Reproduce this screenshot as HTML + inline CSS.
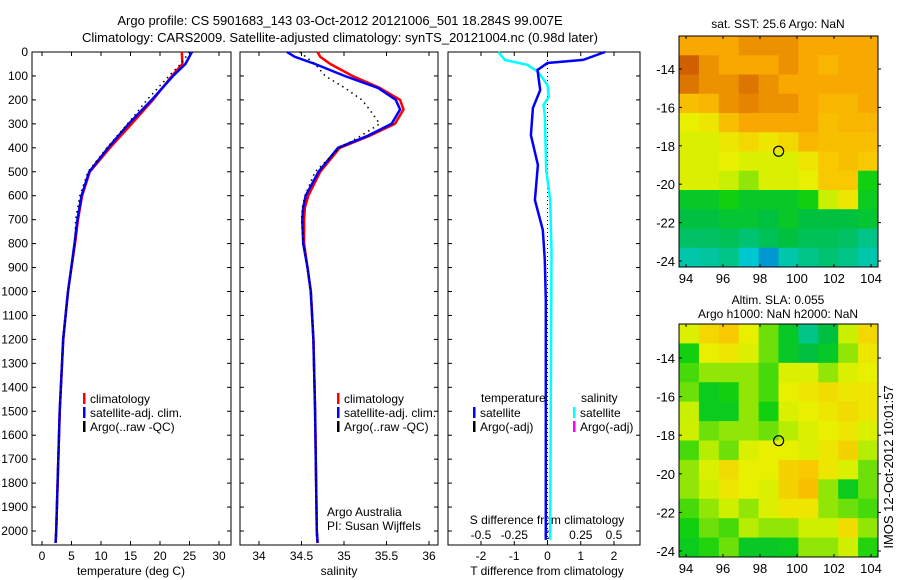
<!DOCTYPE html>
<html><head><meta charset="utf-8"><style>
html,body{margin:0;padding:0;background:#fff;}
svg{display:block;font-family:"Liberation Sans",sans-serif;font-size:12px;}
</style></head><body>
<svg id="fig" width="900" height="580" viewBox="0 0 900 580" xmlns="http://www.w3.org/2000/svg">
<text x="340" y="25" text-anchor="middle" font-size="13">Argo profile: CS 5901683_143 03-Oct-2012 20121006_501 18.284S 99.007E</text>
<text x="340" y="42" text-anchor="middle" font-size="13">Climatology: CARS2009. Satellite-adjusted climatology: synTS_20121004.nc (0.98d later)</text>
<g id="g"></g>
</svg>
<script>
// ---- data ----
var tDepth = [0, 50, 100, 200, 300, 400, 500, 600, 700, 800, 1000, 1200, 1500, 2000, 2050];
var tClim  = [23.7, 23.8, 22.0, 18.8, 15.2, 11.5, 8.1, 6.8, 6.1, 5.6, 4.4, 3.6, 3.0, 2.4, 2.3];
var tSat   = [25.4, 24.3, 22.2, 18.6, 14.7, 11.2, 8.0, 6.7, 6.0, 5.5, 4.4, 3.6, 3.0, 2.4, 2.3];
var tArgo  = [25.0, 23.5, 21.5, 17.8, 14.5, 11.0, 7.8, 6.4, 5.7, 5.6, 4.4, 3.6, 3.0, 2.4, 2.3];
var sDepth = [0, 20, 50, 100, 150, 200, 240, 300, 350, 400, 500, 600, 650, 700, 800, 900, 1000, 1200, 1500, 2000, 2050];
var sClim  = [34.69, 34.72, 34.84, 35.10, 35.42, 35.66, 35.70, 35.60, 35.30, 34.95, 34.72, 34.58, 34.54, 34.53, 34.53, 34.57, 34.61, 34.64, 34.66, 34.68, 34.69];
var sSat   = [34.33, 34.42, 34.66, 35.01, 35.40, 35.61, 35.66, 35.56, 35.28, 34.93, 34.70, 34.55, 34.52, 34.51, 34.52, 34.57, 34.61, 34.64, 34.66, 34.68, 34.69];
var sArgo  = [34.48, 34.55, 34.66, 34.78, 35.01, 35.21, 35.30, 35.42, 35.20, 34.95, 34.66, 34.54, 34.51, 34.50, 34.52, 34.57, 34.61, 34.64, 34.66, 34.68, 34.69];
var dDepth = [0, 33, 46, 75, 159, 234, 347, 472, 618, 743, 868, 1035, 2037];
var dT     = [1.73, 1.07, 0.0, -0.30, -0.22, -0.44, -0.50, -0.29, -0.38, -0.14, -0.08, -0.05, -0.05];
var dsDepth= [0, 33, 54, 83, 138, 188, 221, 263, 493, 618, 827, 2037];
var dS     = [-0.37, -0.32, -0.15, -0.07, 0.0, 0.01, -0.03, -0.02, -0.01, 0.02, 0.03, 0.02];
var depthTicks = [0,100,200,300,400,500,600,700,800,900,1000,1100,1200,1300,1400,1500,1600,1700,1800,1900,2000];
var tTicks = [0,5,10,15,20,25,30];
var sTicks = [34,34.5,35,35.5,36];
var dTTicks = [-2,-1,0,1,2];
var dSTicks = [-0.5,-0.25,0,0.25,0.5];
var lonTicks = [94,96,98,100,102,104];
var latTicks = [-14,-16,-18,-20,-22,-24];
var sstGrid = [
[.85,.85,.85,.88,.88,.88,.85,.85,.85,.85],
[.95,.88,.85,.85,.85,.88,.85,.82,.85,.85],
[.92,.88,.88,.92,.88,.85,.85,.85,.85,.85],
[.80,.82,.88,.90,.88,.88,.85,.82,.82,.85],
[.70,.72,.80,.85,.85,.85,.85,.80,.82,.82],
[.68,.68,.72,.75,.72,.75,.82,.80,.80,.80],
[.68,.68,.70,.68,.68,.68,.72,.78,.80,.78],
[.68,.68,.65,.62,.68,.68,.70,.78,.78,.55],
[.50,.50,.55,.50,.50,.50,.55,.65,.72,.52],
[.45,.45,.48,.48,.45,.50,.45,.45,.45,.48],
[.40,.40,.42,.38,.42,.45,.42,.42,.40,.35],
[.30,.32,.35,.25,.15,.30,.35,.38,.35,.30]];
var slaGrid = [
[.68,.75,.78,.70,.60,.50,.35,.45,.65,.75],
[.55,.70,.72,.68,.60,.50,.45,.50,.62,.72],
[.58,.62,.62,.62,.58,.68,.68,.62,.68,.70],
[.60,.52,.55,.62,.58,.70,.72,.74,.72,.72],
[.65,.52,.52,.62,.55,.68,.70,.72,.74,.72],
[.66,.60,.62,.62,.60,.64,.68,.70,.72,.68],
[.58,.64,.60,.68,.70,.70,.68,.72,.76,.64],
[.62,.68,.74,.70,.70,.76,.78,.72,.68,.60],
[.62,.66,.72,.70,.68,.76,.80,.62,.52,.60],
[.58,.62,.66,.62,.68,.72,.72,.62,.60,.58],
[.55,.60,.58,.64,.62,.62,.66,.66,.74,.62],
[.52,.56,.60,.50,.50,.52,.62,.62,.66,.56]];
var floatLon = 99.007, floatLat = -18.284;

// ---- helpers ----
var NS="http://www.w3.org/2000/svg", G=document.getElementById('g');
function mk(tag, at, parent){var e=document.createElementNS(NS,tag);for(var k in at)e.setAttribute(k,at[k]);(parent||G).appendChild(e);return e;}
var Y0=52, YS=0.2395;
function yD(d){return Y0+d*YS;}
function xT(v){return 42+5.9*v;}
function xS(v){return 259+85*(v-34);}
function xDT(v){return 547.5+33.25*v;}
function xDS(v){return 547.5+133*v;}
function pts(xs,ds,fx){return xs.map(function(v,i){return fx(v).toFixed(1)+','+yD(ds[i]).toFixed(1);}).join(' ');}
function txt(x,y,s,anchor,name,size){var t=mk('text',{x:x,y:y,'text-anchor':anchor||'start'});if(size)t.setAttribute('font-size',size);t.textContent=s;return t;}

function panel(x0,x1,name){
  var r=mk('rect',{x:x0,y:52,width:x1-x0,height:493,fill:'none',stroke:'#000','stroke-width':1});
  
  
}
panel(32,231,'temperature-panel');
panel(240,438,'salinity-panel');
panel(448,640,'difference-panel');

// depth ticks
depthTicks.forEach(function(d){
  var y=yD(d);
  [[32,231],[240,438],[448,640]].forEach(function(p){
    mk('line',{x1:p[0],y1:y,x2:p[0]+4,y2:y,stroke:'#000'});
    mk('line',{x1:p[1],y1:y,x2:p[1]-4,y2:y,stroke:'#000'});
  });
  txt(28,y+4,String(d),'end','depth-tick-label');
});
function xticks(ticks,fx,top,labels,ylab,name){
  ticks.forEach(function(v){var x=fx(v);
    mk('line',{x1:x,y1:545,x2:x,y2:541,stroke:'#000'});
    if(top) mk('line',{x1:x,y1:52,x2:x,y2:56,stroke:'#000'});
    if(labels) txt(x,ylab,String(v),'middle',name);
  });
}
xticks(tTicks,xT,true,true,560,'temperature-tick-label');
xticks(sTicks,xS,true,true,560,'salinity-tick-label');
xticks(dTTicks,xDT,true,true,560,'t-diff-tick-label');
dSTicks.forEach(function(v){txt(xDS(v),539,String(v),'middle','s-diff-tick-label');});
txt(131,575,'temperature (deg C)','middle','temperature-axis-title');
txt(339,575,'salinity','middle','salinity-axis-title');
txt(547,575,'T difference from climatology','middle','t-diff-axis-title');
txt(547,524,'S difference from climatology','middle','s-diff-axis-title');

function line(p,color,w,dash,name){
  var a={points:p,fill:'none',stroke:color,'stroke-width':w};
  if(dash)a['stroke-dasharray']=dash;
  var e=mk('polyline',a);
  
  
}
line(pts(tClim,tDepth,xT),'#f00',2.5,null,'temperature-climatology-line');
line(pts(tSat,tDepth,xT),'#00f',2.5,null,'temperature-satellite-line');
line(pts(tArgo,tDepth,xT),'#000',1.5,'1.5,4','temperature-argo-line');
line(pts(sClim,sDepth,xS),'#f00',2.5,null,'salinity-climatology-line');
line(pts(sSat,sDepth,xS),'#00f',2.5,null,'salinity-satellite-line');
line(pts(sArgo,sDepth,xS),'#000',1.5,'1.5,4','salinity-argo-line');
mk('line',{x1:547.5,y1:52,x2:547.5,y2:545,stroke:'#000','stroke-dasharray':'1,3'});
line(pts(dS,dsDepth,xDS),'#0ff',2.5,null,'salinity-diff-satellite-line');
line(pts(dT,dDepth,xDT),'#00f',2.5,null,'temperature-diff-satellite-line');

// legends
function leg(x,y,color,label,name){
  var m=mk('rect',{x:x,y:y-9,width:2.5,height:11,fill:color});
  
  
  txt(x+7,y+1,label,'start',name);
}
leg(83,402,'#f00','climatology','legend-climatology');
leg(83,416,'#00f','satellite-adj. clim.','legend-satellite');
leg(83,430,'#000','Argo(..raw -QC)','legend-argo');
leg(337,402,'#f00','climatology','legend-climatology-s');
leg(337,416,'#00f','satellite-adj. clim.','legend-satellite-s');
leg(337,430,'#000','Argo(..raw -QC)','legend-argo-s');
txt(481,402,'temperature','start','legend-temperature-header');
txt(581,402,'salinity','start','legend-salinity-header');
leg(473,416,'#00f','satellite','legend-t-satellite');
leg(473,430,'#000','Argo(-adj)','legend-t-argo');
leg(573,416,'#0ff','satellite','legend-s-satellite');
leg(573,430,'#f0f','Argo(-adj)','legend-s-argo');
txt(327,516,'Argo Australia','start','argo-australia-label');
txt(327,530,'PI: Susan Wijffels','start','pi-label');

// maps
var stops=[[0,[0,80,208]],[.25,[0,200,208]],[.45,[0,192,64]],[.55,[16,208,16]],[.65,[200,240,0]],[.7,[232,240,0]],[.78,[248,200,0]],[.85,[248,168,0]],[.95,[208,96,0]],[1,[200,80,0]]];
function cmap(v){for(var i=1;i<stops.length;i++){if(v<=stops[i][0]){var a=stops[i-1],b=stops[i],t=(v-a[0])/(b[0]-a[0]);return 'rgb('+a[1].map(function(c,k){return Math.round(c+(b[1][k]-c)*t);}).join(',')+')';}}return 'rgb(200,80,0)';}
function map(grid,x0,y0,x1,y1,lat14,lat24,name,title1,title2){
  var gm=mk('g',{});
  
  
  var rows=grid.length,cols=grid[0].length,cw=(x1-x0)/cols,ch=(y1-y0)/rows;
  grid.forEach(function(r,i){r.forEach(function(v,j){mk('rect',{x:x0+j*cw,y:y0+i*ch,width:cw+0.5,height:ch+0.5,fill:cmap(v)},gm);});});
  mk('rect',{x:x0,y:y0,width:x1-x0,height:y1-y0,fill:'none',stroke:'#000'});
  function xl(l){return 686+(l-94)*18.5;}
  function yl(l){return lat14+(l+14)*(lat24-lat14)/(-10);}
  lonTicks.forEach(function(l){var x=xl(l);mk('line',{x1:x,y1:y0,x2:x,y2:y0+3,stroke:'#000'});mk('line',{x1:x,y1:y1,x2:x,y2:y1-3,stroke:'#000'});txt(x,y1+16,String(l),'middle',name+'-lon-label',13);});
  latTicks.forEach(function(l){var y=yl(l);mk('line',{x1:x0,y1:y,x2:x0+3,y2:y,stroke:'#000'});mk('line',{x1:x1,y1:y,x2:x1+3,y2:y,stroke:'#000'});txt(x0-4,y+5,String(l),'end',name+'-lat-label',13);});
  var c=mk('circle',{cx:xl(floatLon),cy:yl(floatLat),r:5,fill:'none',stroke:'#000','stroke-width':1.2});
  
  
  if(title1)txt(778,title2?y0-20:y0-8,title1,'middle',name+'-title');
  if(title2)txt(778,y0-6,title2,'middle',name+'-subtitle');
}
map(sstGrid,679,36,878,267,69,261,'sst-map','sat. SST: 25.6 Argo: NaN',null);
map(slaGrid,679,324,878,557,358,551,'sla-map','Altim. SLA: 0.055','Argo h1000: NaN h2000: NaN');
var v=txt(0,0,'IMOS 12-Oct-2012 10:01:57','middle','imos-timestamp',13);
v.setAttribute('transform','translate(893,467) rotate(-90)');
</script>
</body></html>
